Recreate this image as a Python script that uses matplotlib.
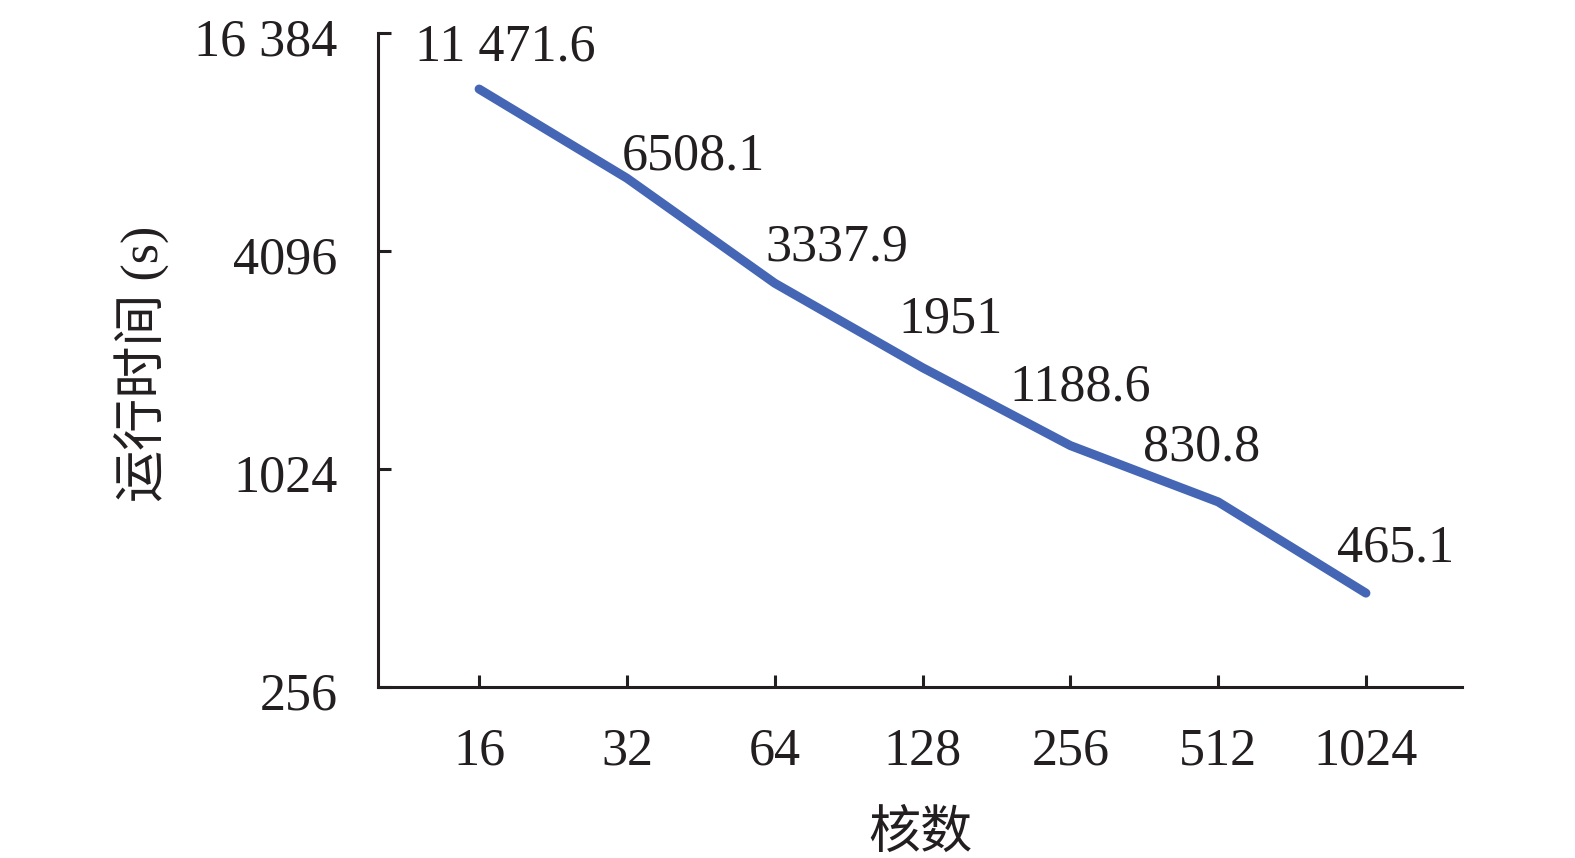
import matplotlib
matplotlib.use("Agg")
import matplotlib.pyplot as plt
import matplotlib.transforms as mtransforms
import numpy as np

cores = ["16", "32", "64", "128", "256", "512", "1024"]
runtime = [11471.6, 6508.1, 3337.9, 1951, 1188.6, 830.8, 465.1]
value_labels = ["11 471.6", "6508.1", "3337.9", "1951", "1188.6", "830.8", "465.1"]
yticks = [256, 1024, 4096, 16384]
ytick_labels = ["256", "1024", "4096", "16 384"]
# label offsets (pixels) relative to each point
label_offsets = [(26, 42), (66, 22), (62, 36), (28, 48), (10, 58), (-16, 54), (30, 45)]

fonts = ["Liberation Serif", "Noto Sans CJK SC"]
plt.rcParams["font.family"] = fonts
ink = "#231f20"
fs = 37.5

fig = plt.figure(figsize=(15.75, 8.58), dpi=100)
ax = fig.add_axes([378 / 1575, 1 - 687 / 858, (1462 - 378) / 1575, (687 - 33) / 858])

x = np.arange(len(cores))
ax.plot(x, runtime, color="#4466B4", lw=6.5, solid_capstyle="round", solid_joinstyle="round")

ax.set_yscale("log", base=2)
ax.set_ylim(256, 16384)
ax.set_yticks(yticks)
ax.set_yticklabels(ytick_labels)
ax.minorticks_off()
ax.set_xlim(-0.684, 6.65)
ax.set_xticks(x)
ax.set_xticklabels(cores)

for xi, v, lab, off in zip(x, runtime, value_labels, label_offsets):
    ax.annotate(lab, (xi, v), xytext=off, textcoords="offset pixels",
                ha="center", va="center", fontsize=fs, color=ink)

for s in ["top", "right"]:
    ax.spines[s].set_visible(False)
for s in ["left", "bottom"]:
    ax.spines[s].set_linewidth(2.2)
    ax.spines[s].set_color(ink)

ax.tick_params(axis="both", direction="in", length=9, width=2.2, color=ink,
               labelsize=fs, labelcolor=ink)
ax.tick_params(axis="y", pad=29)
ax.tick_params(axis="x", pad=29)
shift = mtransforms.ScaledTranslation(0, -3 / 72, fig.dpi_scale_trans)
for t in ax.get_yticklabels():
    t.set_transform(t.get_transform() + shift)

fig.text(142 / 1575, 1 - 364 / 858, "运行时间 (s)", rotation=90, ha="center", va="center",
         fontsize=fs, color=ink, family=fonts)
fig.text(920 / 1575, 1 - 835 / 858, "核数", ha="center", va="center",
         fontsize=fs, color=ink, family=fonts)

fig.savefig("out.png", dpi=100)
